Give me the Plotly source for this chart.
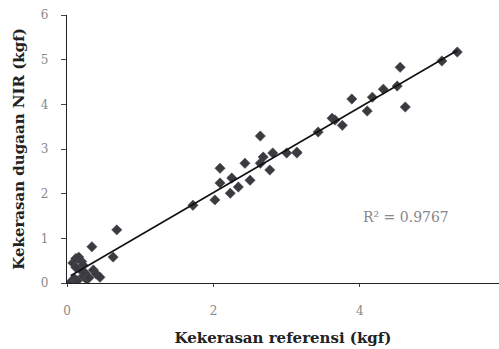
import numpy as np
import plotly.graph_objects as go

# Reference hardness (kgf) vs NIR-predicted hardness (kgf)
ref_kgf = [0.05, 0.08, 0.10, 0.12, 0.14, 0.16, 0.18, 0.20, 0.22, 0.25, 0.27, 0.30,
           0.34, 0.36, 0.40, 0.45, 0.63, 0.68, 0.12, 0.22,
           1.72, 2.02, 2.09, 2.09, 2.23, 2.25, 2.34, 2.43, 2.50, 2.64, 2.64,
           2.68, 2.77, 2.81, 3.00, 3.14, 3.14, 3.43, 3.62, 3.66, 3.76,
           3.89, 4.10, 4.17, 4.32, 4.51, 4.55, 4.62, 5.12, 5.33]
nir_kgf = [0.02, 0.45, 0.10, 0.55, 0.05, 0.58, 0.30, 0.48, 0.15, 0.22, 0.08, 0.12,
           0.81, 0.29, 0.20, 0.13, 0.58, 1.19, 0.35, 0.40,
           1.74, 1.86, 2.24, 2.57, 2.01, 2.35, 2.15, 2.68, 2.30, 2.68, 3.29,
           2.82, 2.53, 2.91, 2.91, 2.91, 2.93, 3.38, 3.69, 3.65, 3.53,
           4.12, 3.85, 4.16, 4.34, 4.41, 4.83, 3.94, 4.97, 5.17]
r2_text = "R² = 0.9767"

x = np.array(ref_kgf)
y = np.array(nir_kgf)
slope, intercept = np.polyfit(x, y, 1)
fit_x = np.array([x.min(), x.max()])
fit_y = slope * fit_x + intercept

serif = "DejaVu Serif"

fig = go.Figure()
fig.add_trace(go.Scatter(
    x=ref_kgf, y=nir_kgf, mode="markers",
    marker=dict(symbol="diamond", size=8, color="#3a3a40",
                line=dict(width=0.5, color="#555")),
    showlegend=False, hoverinfo="skip"))
fig.add_trace(go.Scatter(
    x=fit_x, y=fit_y, mode="lines",
    line=dict(color="#111", width=1.6),
    showlegend=False, hoverinfo="skip"))

fig.add_annotation(
    x=0.785, y=0.246, xref="paper", yref="paper", text=r2_text,
    xanchor="center", yanchor="middle",
    showarrow=False, font=dict(family=serif, size=14, color="#888"))

fig.update_layout(
    width=499, height=349,
    margin=dict(l=67, r=0, t=15, b=66),
    paper_bgcolor="white", plot_bgcolor="white",
    font=dict(family=serif),
    xaxis=dict(range=[0, 5.9], tickvals=[0, 2, 4], showgrid=False, zeroline=False,
               showline=True, linecolor="#222", linewidth=1.2,
               ticks="outside", ticklen=3, tickcolor="#444", ticklabelstandoff=13,
               tickfont=dict(family=serif, size=12, color="#888"),
               title=dict(text="<b>Kekerasan referensi (kgf)</b>", standoff=15,
                          font=dict(family=serif, size=15, color="#222"))),
    yaxis=dict(range=[0, 6], tickvals=[0, 1, 2, 3, 4, 5, 6], showgrid=False, zeroline=False,
               showline=True, linecolor="#222", linewidth=1.2,
               ticks="outside", ticklen=5, tickcolor="#444", ticklabelstandoff=10,
               tickfont=dict(family=serif, size=12, color="#888"),
               title=dict(text="<b>Kekerasan dugaan NIR (kgf)</b>", standoff=12,
                          font=dict(family=serif, size=15, color="#222"))),
)

fig.write_html("out.html")
